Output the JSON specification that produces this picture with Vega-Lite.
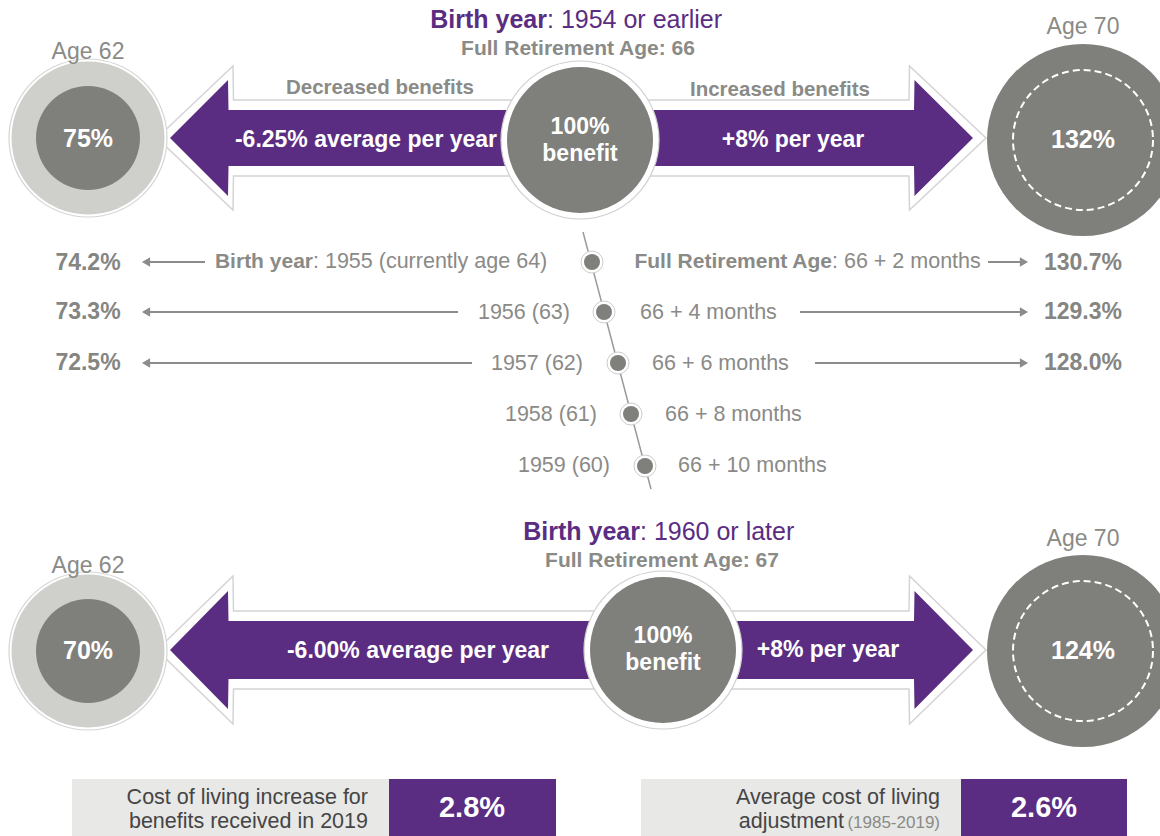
{
  "$schema": "https://vega.github.io/schema/vega-lite/v6.json",
  "width": 1160,
  "height": 836,
  "autosize": {"type": "none"},
  "padding": 0,
  "background": "white",
  "config": {"view": {"stroke": null}, "font": "Liberation Sans"},
  "datasets": {
    "arrows": [
      {"arrow": "top-left", "part": "outline", "x": 157, "y": 138, "y2": 138},
      {"arrow": "top-left", "part": "outline", "x": 233, "y": 66, "y2": 210},
      {"arrow": "top-left", "part": "outline", "x": 233.5, "y": 100, "y2": 176},
      {"arrow": "top-left", "part": "outline", "x": 560, "y": 100, "y2": 176},
      {"arrow": "top-left", "part": "fill", "x": 170, "y": 138, "y2": 138},
      {"arrow": "top-left", "part": "fill", "x": 228, "y": 80, "y2": 196},
      {"arrow": "top-left", "part": "fill", "x": 228.5, "y": 110, "y2": 166},
      {"arrow": "top-left", "part": "fill", "x": 560, "y": 110, "y2": 166},
      {"arrow": "top-right", "part": "outline", "x": 600, "y": 100, "y2": 176},
      {"arrow": "top-right", "part": "outline", "x": 909, "y": 100, "y2": 176},
      {"arrow": "top-right", "part": "outline", "x": 909.5, "y": 66, "y2": 210},
      {"arrow": "top-right", "part": "outline", "x": 986, "y": 138, "y2": 138},
      {"arrow": "top-right", "part": "fill", "x": 600, "y": 110, "y2": 166},
      {"arrow": "top-right", "part": "fill", "x": 914, "y": 110, "y2": 166},
      {"arrow": "top-right", "part": "fill", "x": 914.5, "y": 80, "y2": 196},
      {"arrow": "top-right", "part": "fill", "x": 973, "y": 138, "y2": 138},
      {"arrow": "bottom-left", "part": "outline", "x": 157, "y": 650, "y2": 650},
      {"arrow": "bottom-left", "part": "outline", "x": 233, "y": 576, "y2": 724},
      {"arrow": "bottom-left", "part": "outline", "x": 233.5, "y": 611, "y2": 689},
      {"arrow": "bottom-left", "part": "outline", "x": 640, "y": 611, "y2": 689},
      {"arrow": "bottom-left", "part": "fill", "x": 170, "y": 650, "y2": 650},
      {"arrow": "bottom-left", "part": "fill", "x": 228, "y": 591, "y2": 709},
      {"arrow": "bottom-left", "part": "fill", "x": 228.5, "y": 621, "y2": 679},
      {"arrow": "bottom-left", "part": "fill", "x": 640, "y": 621, "y2": 679},
      {"arrow": "bottom-right", "part": "outline", "x": 690, "y": 611, "y2": 689},
      {"arrow": "bottom-right", "part": "outline", "x": 909, "y": 611, "y2": 689},
      {"arrow": "bottom-right", "part": "outline", "x": 909.5, "y": 576, "y2": 724},
      {"arrow": "bottom-right", "part": "outline", "x": 986, "y": 650, "y2": 650},
      {"arrow": "bottom-right", "part": "fill", "x": 690, "y": 621, "y2": 679},
      {"arrow": "bottom-right", "part": "fill", "x": 914, "y": 621, "y2": 679},
      {"arrow": "bottom-right", "part": "fill", "x": 914.5, "y": 591, "y2": 709},
      {"arrow": "bottom-right", "part": "fill", "x": 973, "y": 650, "y2": 650}
    ],
    "spine": [{"x": 583, "y": 232, "x2": 651, "y2": 489}],
    "rowArrows": [
      {"tail": 205, "head": 146, "y": 262, "dir": "left"},
      {"tail": 988, "head": 1024, "y": 262, "dir": "right"},
      {"tail": 458, "head": 146, "y": 312, "dir": "left"},
      {"tail": 800, "head": 1024, "y": 312, "dir": "right"},
      {"tail": 472, "head": 146, "y": 363, "dir": "left"},
      {"tail": 815, "head": 1024, "y": 363, "dir": "right"}
    ],
    "circles": [
      {"x": 88, "y": 138, "kind": "ring"},
      {"x": 88, "y": 651, "kind": "ring"},
      {"x": 580, "y": 140, "kind": "hub"},
      {"x": 663, "y": 650, "kind": "hub"},
      {"x": 1083, "y": 140, "kind": "big"},
      {"x": 1083, "y": 651, "kind": "big"},
      {"x": 592, "y": 262, "kind": "dot"},
      {"x": 604, "y": 312, "kind": "dot"},
      {"x": 618, "y": 363, "kind": "dot"},
      {"x": 631, "y": 414, "kind": "dot"},
      {"x": 645, "y": 466, "kind": "dot"}
    ],
    "boxes": [
      {"x": 72, "x2": 389, "y": 779, "y2": 836, "kind": "label"},
      {"x": 389, "x2": 556, "y": 779, "y2": 836, "kind": "value"},
      {"x": 641, "x2": 961, "y": 779, "y2": 836, "kind": "label"},
      {"x": 961, "x2": 1127, "y": 779, "y2": 836, "kind": "value"}
    ],
    "texts": [
      {"x": 547, "y": 20, "text": "Birth year", "role": "titleB"},
      {"x": 547, "y": 20, "text": ": 1954 or earlier", "role": "titleR"},
      {"x": 578, "y": 49, "text": "Full Retirement Age: 66", "role": "fra"},
      {"x": 640, "y": 532, "text": "Birth year", "role": "titleB"},
      {"x": 640, "y": 532, "text": ": 1960 or later", "role": "titleR"},
      {"x": 662, "y": 561, "text": "Full Retirement Age: 67", "role": "fra"},
      {"x": 88, "y": 52, "text": "Age 62", "role": "age"},
      {"x": 1083, "y": 27, "text": "Age 70", "role": "age"},
      {"x": 88, "y": 566, "text": "Age 62", "role": "age"},
      {"x": 1083, "y": 539, "text": "Age 70", "role": "age"},
      {"x": 88, "y": 139, "text": "75%", "role": "circlePct"},
      {"x": 1083, "y": 140, "text": "132%", "role": "circlePct"},
      {"x": 88, "y": 651, "text": "70%", "role": "circlePct"},
      {"x": 1083, "y": 651, "text": "124%", "role": "circlePct"},
      {"x": 580, "y": 127, "text": "100%", "role": "hubTxt"},
      {"x": 580, "y": 154, "text": "benefit", "role": "hubTxt"},
      {"x": 663, "y": 636, "text": "100%", "role": "hubTxt"},
      {"x": 663, "y": 663, "text": "benefit", "role": "hubTxt"},
      {"x": 366, "y": 140, "text": "-6.25% average per year", "role": "arrowTxt"},
      {"x": 793, "y": 140, "text": "+8% per year", "role": "arrowTxt"},
      {"x": 418, "y": 651, "text": "-6.00% average per year", "role": "arrowTxt"},
      {"x": 828, "y": 650, "text": "+8% per year", "role": "arrowTxt"},
      {"x": 380, "y": 88, "text": "Decreased benefits", "role": "benef"},
      {"x": 780, "y": 90, "text": "Increased benefits", "role": "benef"},
      {"x": 88, "y": 263, "text": "74.2%", "role": "rowPct"},
      {"x": 88, "y": 312, "text": "73.3%", "role": "rowPct"},
      {"x": 88, "y": 363, "text": "72.5%", "role": "rowPct"},
      {"x": 1083, "y": 263, "text": "130.7%", "role": "rowPct"},
      {"x": 1083, "y": 312, "text": "129.3%", "role": "rowPct"},
      {"x": 1083, "y": 363, "text": "128.0%", "role": "rowPct"},
      {"x": 313, "y": 262, "text": "Birth year", "role": "rowB"},
      {"x": 832, "y": 262, "text": "Full Retirement Age", "role": "rowB"},
      {"x": 313, "y": 262, "text": ": 1955 (currently age 64)", "role": "rowL"},
      {"x": 832, "y": 262, "text": ": 66 + 2 months", "role": "rowL"},
      {"x": 640, "y": 313, "text": "66 + 4 months", "role": "rowL"},
      {"x": 652, "y": 364, "text": "66 + 6 months", "role": "rowL"},
      {"x": 665, "y": 415, "text": "66 + 8 months", "role": "rowL"},
      {"x": 678, "y": 466, "text": "66 + 10 months", "role": "rowL"},
      {"x": 570, "y": 313, "text": "1956 (63)", "role": "rowR"},
      {"x": 583, "y": 364, "text": "1957 (62)", "role": "rowR"},
      {"x": 597, "y": 415, "text": "1958 (61)", "role": "rowR"},
      {"x": 610, "y": 466, "text": "1959 (60)", "role": "rowR"},
      {"x": 368, "y": 798, "text": "Cost of living increase for", "role": "boxTxt"},
      {"x": 368, "y": 822, "text": "benefits received in 2019", "role": "boxTxt"},
      {"x": 940, "y": 798, "text": "Average cost of living", "role": "boxTxt"},
      {"x": 844, "y": 822, "text": "adjustment", "role": "boxTxt"},
      {"x": 940, "y": 823, "text": "(1985-2019)", "role": "boxTxtLight"},
      {"x": 472, "y": 808, "text": "2.8%", "role": "boxPct"},
      {"x": 1044, "y": 808, "text": "2.6%", "role": "boxPct"}
    ]
  },
  "layer": [
    {
      "data": {"name": "arrows"},
      "transform": [{"filter": "datum.part === 'outline'"}],
      "mark": {"type": "area", "orient": "vertical", "fill": "#ffffff", "stroke": "#d4d4d4", "strokeWidth": 1.5, "interpolate": "linear"},
      "encoding": {
        "x": {"field": "x", "type": "quantitative", "scale": {"domain": [0, 1160], "nice": false, "zero": false}, "axis": null},
        "y": {"field": "y", "type": "quantitative", "scale": {"domain": [0, 836], "nice": false, "zero": false, "reverse": true}, "axis": null},
        "y2": {"field": "y2"},
        "detail": {"field": "arrow", "type": "nominal"}
      }
    },
    {
      "data": {"name": "arrows"},
      "transform": [{"filter": "datum.part === 'fill'"}],
      "mark": {"type": "area", "orient": "vertical", "fill": "#5a2d82", "interpolate": "linear", "opacity": 1},
      "encoding": {
        "x": {"field": "x", "type": "quantitative", "scale": {"domain": [0, 1160], "nice": false, "zero": false}, "axis": null},
        "y": {"field": "y", "type": "quantitative", "scale": {"domain": [0, 836], "nice": false, "zero": false, "reverse": true}, "axis": null},
        "y2": {"field": "y2"},
        "detail": {"field": "arrow", "type": "nominal"}
      }
    },
    {
      "data": {"name": "spine"},
      "mark": {"type": "rule", "color": "#9a9a9a", "strokeWidth": 1.5},
      "encoding": {
        "x": {"field": "x", "type": "quantitative", "scale": {"domain": [0, 1160], "nice": false, "zero": false}, "axis": null},
        "y": {"field": "y", "type": "quantitative", "scale": {"domain": [0, 836], "nice": false, "zero": false, "reverse": true}, "axis": null},
        "x2": {"field": "x2"},
        "y2": {"field": "y2"}
      }
    },
    {
      "data": {"name": "rowArrows"},
      "mark": {"type": "rule", "color": "#8c8c8c", "strokeWidth": 2},
      "encoding": {
        "x": {"field": "tail", "type": "quantitative", "scale": {"domain": [0, 1160], "nice": false, "zero": false}, "axis": null},
        "x2": {"field": "head"},
        "y": {"field": "y", "type": "quantitative", "scale": {"domain": [0, 836], "nice": false, "zero": false, "reverse": true}, "axis": null}
      }
    },
    {
      "data": {"name": "rowArrows"},
      "mark": {"type": "point", "filled": true, "color": "#8c8c8c", "size": 90, "opacity": 1},
      "encoding": {
        "x": {"field": "head", "type": "quantitative", "scale": {"domain": [0, 1160], "nice": false, "zero": false}, "axis": null},
        "y": {"field": "y", "type": "quantitative", "scale": {"domain": [0, 836], "nice": false, "zero": false, "reverse": true}, "axis": null},
        "shape": {"field": "dir", "type": "nominal", "scale": {"domain": ["left", "right"], "range": ["triangle-left", "triangle-right"]}, "legend": null}
      }
    },
    {
      "data": {"name": "circles"},
      "transform": [{"filter": "datum.kind === 'ring'"}],
      "mark": {"type": "circle", "size": 24964, "fill": "#ffffff", "stroke": "#d6d6d6", "strokeWidth": 1.2, "opacity": 1},
      "encoding": {
        "x": {"field": "x", "type": "quantitative", "scale": {"domain": [0, 1160], "nice": false, "zero": false}, "axis": null},
        "y": {"field": "y", "type": "quantitative", "scale": {"domain": [0, 836], "nice": false, "zero": false, "reverse": true}, "axis": null}
      }
    },
    {
      "data": {"name": "circles"},
      "transform": [{"filter": "datum.kind === 'ring'"}],
      "mark": {"type": "circle", "size": 23409, "fill": "#cfd0cc", "opacity": 1},
      "encoding": {
        "x": {"field": "x", "type": "quantitative", "scale": {"domain": [0, 1160], "nice": false, "zero": false}, "axis": null},
        "y": {"field": "y", "type": "quantitative", "scale": {"domain": [0, 836], "nice": false, "zero": false, "reverse": true}, "axis": null}
      }
    },
    {
      "data": {"name": "circles"},
      "transform": [{"filter": "datum.kind === 'ring'"}],
      "mark": {"type": "circle", "size": 10816, "fill": "#7f807b", "opacity": 1},
      "encoding": {
        "x": {"field": "x", "type": "quantitative", "scale": {"domain": [0, 1160], "nice": false, "zero": false}, "axis": null},
        "y": {"field": "y", "type": "quantitative", "scale": {"domain": [0, 836], "nice": false, "zero": false, "reverse": true}, "axis": null}
      }
    },
    {
      "data": {"name": "circles"},
      "transform": [{"filter": "datum.kind === 'hub'"}],
      "mark": {"type": "circle", "size": 24964, "fill": "#ffffff", "stroke": "#d0d0d0", "strokeWidth": 1.2, "opacity": 1},
      "encoding": {
        "x": {"field": "x", "type": "quantitative", "scale": {"domain": [0, 1160], "nice": false, "zero": false}, "axis": null},
        "y": {"field": "y", "type": "quantitative", "scale": {"domain": [0, 836], "nice": false, "zero": false, "reverse": true}, "axis": null}
      }
    },
    {
      "data": {"name": "circles"},
      "transform": [{"filter": "datum.kind === 'hub'"}],
      "mark": {"type": "circle", "size": 21316, "fill": "#7f807b", "opacity": 1},
      "encoding": {
        "x": {"field": "x", "type": "quantitative", "scale": {"domain": [0, 1160], "nice": false, "zero": false}, "axis": null},
        "y": {"field": "y", "type": "quantitative", "scale": {"domain": [0, 836], "nice": false, "zero": false, "reverse": true}, "axis": null}
      }
    },
    {
      "data": {"name": "circles"},
      "transform": [{"filter": "datum.kind === 'big'"}],
      "mark": {"type": "circle", "size": 36864, "fill": "#7f807b", "opacity": 1},
      "encoding": {
        "x": {"field": "x", "type": "quantitative", "scale": {"domain": [0, 1160], "nice": false, "zero": false}, "axis": null},
        "y": {"field": "y", "type": "quantitative", "scale": {"domain": [0, 836], "nice": false, "zero": false, "reverse": true}, "axis": null}
      }
    },
    {
      "data": {"name": "circles"},
      "transform": [{"filter": "datum.kind === 'big'"}],
      "mark": {"type": "point", "shape": "circle", "size": 19600, "filled": false, "color": "#ffffff", "strokeWidth": 2, "strokeDash": [7, 4], "opacity": 1},
      "encoding": {
        "x": {"field": "x", "type": "quantitative", "scale": {"domain": [0, 1160], "nice": false, "zero": false}, "axis": null},
        "y": {"field": "y", "type": "quantitative", "scale": {"domain": [0, 836], "nice": false, "zero": false, "reverse": true}, "axis": null}
      }
    },
    {
      "data": {"name": "circles"},
      "transform": [{"filter": "datum.kind === 'dot'"}],
      "mark": {"type": "circle", "size": 484, "fill": "#ffffff", "stroke": "#cccccc", "strokeWidth": 1, "opacity": 1},
      "encoding": {
        "x": {"field": "x", "type": "quantitative", "scale": {"domain": [0, 1160], "nice": false, "zero": false}, "axis": null},
        "y": {"field": "y", "type": "quantitative", "scale": {"domain": [0, 836], "nice": false, "zero": false, "reverse": true}, "axis": null}
      }
    },
    {
      "data": {"name": "circles"},
      "transform": [{"filter": "datum.kind === 'dot'"}],
      "mark": {"type": "circle", "size": 256, "fill": "#7f807b", "opacity": 1},
      "encoding": {
        "x": {"field": "x", "type": "quantitative", "scale": {"domain": [0, 1160], "nice": false, "zero": false}, "axis": null},
        "y": {"field": "y", "type": "quantitative", "scale": {"domain": [0, 836], "nice": false, "zero": false, "reverse": true}, "axis": null}
      }
    },
    {
      "data": {"name": "boxes"},
      "mark": {"type": "rect"},
      "encoding": {
        "x": {"field": "x", "type": "quantitative", "scale": {"domain": [0, 1160], "nice": false, "zero": false}, "axis": null},
        "x2": {"field": "x2"},
        "y": {"field": "y", "type": "quantitative", "scale": {"domain": [0, 836], "nice": false, "zero": false, "reverse": true}, "axis": null},
        "y2": {"field": "y2"},
        "color": {"field": "kind", "type": "nominal", "scale": {"domain": ["label", "value"], "range": ["#e8e8e6", "#5a2d82"]}, "legend": null}
      }
    },
    {
      "data": {"name": "texts"},
      "transform": [{"filter": "datum.role === 'titleB'"}],
      "mark": {"type": "text", "font": "Liberation Sans", "fontWeight": "bold", "fontSize": 25, "color": "#5a2d82", "align": "right", "baseline": "middle"},
      "encoding": {
        "x": {"field": "x", "type": "quantitative", "scale": {"domain": [0, 1160], "nice": false, "zero": false}, "axis": null},
        "y": {"field": "y", "type": "quantitative", "scale": {"domain": [0, 836], "nice": false, "zero": false, "reverse": true}, "axis": null},
        "text": {"field": "text", "type": "nominal"}
      }
    },
    {
      "data": {"name": "texts"},
      "transform": [{"filter": "datum.role === 'titleR'"}],
      "mark": {"type": "text", "font": "Liberation Sans", "fontSize": 25, "color": "#5a2d82", "align": "left", "baseline": "middle"},
      "encoding": {
        "x": {"field": "x", "type": "quantitative", "scale": {"domain": [0, 1160], "nice": false, "zero": false}, "axis": null},
        "y": {"field": "y", "type": "quantitative", "scale": {"domain": [0, 836], "nice": false, "zero": false, "reverse": true}, "axis": null},
        "text": {"field": "text", "type": "nominal"}
      }
    },
    {
      "data": {"name": "texts"},
      "transform": [{"filter": "datum.role === 'fra'"}],
      "mark": {"type": "text", "font": "Liberation Sans", "fontWeight": "bold", "fontSize": 21, "color": "#8a8a87", "align": "center", "baseline": "middle"},
      "encoding": {
        "x": {"field": "x", "type": "quantitative", "scale": {"domain": [0, 1160], "nice": false, "zero": false}, "axis": null},
        "y": {"field": "y", "type": "quantitative", "scale": {"domain": [0, 836], "nice": false, "zero": false, "reverse": true}, "axis": null},
        "text": {"field": "text", "type": "nominal"}
      }
    },
    {
      "data": {"name": "texts"},
      "transform": [{"filter": "datum.role === 'benef'"}],
      "mark": {"type": "text", "font": "Liberation Sans", "fontWeight": "bold", "fontSize": 20.5, "color": "#8a8a87", "align": "center", "baseline": "middle"},
      "encoding": {
        "x": {"field": "x", "type": "quantitative", "scale": {"domain": [0, 1160], "nice": false, "zero": false}, "axis": null},
        "y": {"field": "y", "type": "quantitative", "scale": {"domain": [0, 836], "nice": false, "zero": false, "reverse": true}, "axis": null},
        "text": {"field": "text", "type": "nominal"}
      }
    },
    {
      "data": {"name": "texts"},
      "transform": [{"filter": "datum.role === 'age'"}],
      "mark": {"type": "text", "font": "Liberation Sans", "fontSize": 23, "color": "#8a8a87", "align": "center", "baseline": "middle"},
      "encoding": {
        "x": {"field": "x", "type": "quantitative", "scale": {"domain": [0, 1160], "nice": false, "zero": false}, "axis": null},
        "y": {"field": "y", "type": "quantitative", "scale": {"domain": [0, 836], "nice": false, "zero": false, "reverse": true}, "axis": null},
        "text": {"field": "text", "type": "nominal"}
      }
    },
    {
      "data": {"name": "texts"},
      "transform": [{"filter": "datum.role === 'circlePct'"}],
      "mark": {"type": "text", "font": "Liberation Sans", "fontWeight": "bold", "fontSize": 25, "color": "#ffffff", "align": "center", "baseline": "middle"},
      "encoding": {
        "x": {"field": "x", "type": "quantitative", "scale": {"domain": [0, 1160], "nice": false, "zero": false}, "axis": null},
        "y": {"field": "y", "type": "quantitative", "scale": {"domain": [0, 836], "nice": false, "zero": false, "reverse": true}, "axis": null},
        "text": {"field": "text", "type": "nominal"}
      }
    },
    {
      "data": {"name": "texts"},
      "transform": [{"filter": "datum.role === 'hubTxt' || datum.role === 'arrowTxt'"}],
      "mark": {"type": "text", "font": "Liberation Sans", "fontWeight": "bold", "fontSize": 23, "color": "#ffffff", "align": "center", "baseline": "middle"},
      "encoding": {
        "x": {"field": "x", "type": "quantitative", "scale": {"domain": [0, 1160], "nice": false, "zero": false}, "axis": null},
        "y": {"field": "y", "type": "quantitative", "scale": {"domain": [0, 836], "nice": false, "zero": false, "reverse": true}, "axis": null},
        "text": {"field": "text", "type": "nominal"}
      }
    },
    {
      "data": {"name": "texts"},
      "transform": [{"filter": "datum.role === 'rowPct'"}],
      "mark": {"type": "text", "font": "Liberation Sans", "fontWeight": "bold", "fontSize": 23, "color": "#858582", "align": "center", "baseline": "middle"},
      "encoding": {
        "x": {"field": "x", "type": "quantitative", "scale": {"domain": [0, 1160], "nice": false, "zero": false}, "axis": null},
        "y": {"field": "y", "type": "quantitative", "scale": {"domain": [0, 836], "nice": false, "zero": false, "reverse": true}, "axis": null},
        "text": {"field": "text", "type": "nominal"}
      }
    },
    {
      "data": {"name": "texts"},
      "transform": [{"filter": "datum.role === 'rowB'"}],
      "mark": {"type": "text", "font": "Liberation Sans", "fontWeight": "bold", "fontSize": 21, "color": "#8a8a87", "align": "right", "baseline": "middle"},
      "encoding": {
        "x": {"field": "x", "type": "quantitative", "scale": {"domain": [0, 1160], "nice": false, "zero": false}, "axis": null},
        "y": {"field": "y", "type": "quantitative", "scale": {"domain": [0, 836], "nice": false, "zero": false, "reverse": true}, "axis": null},
        "text": {"field": "text", "type": "nominal"}
      }
    },
    {
      "data": {"name": "texts"},
      "transform": [{"filter": "datum.role === 'rowL'"}],
      "mark": {"type": "text", "font": "Liberation Sans", "fontSize": 21.5, "color": "#8a8a87", "align": "left", "baseline": "middle"},
      "encoding": {
        "x": {"field": "x", "type": "quantitative", "scale": {"domain": [0, 1160], "nice": false, "zero": false}, "axis": null},
        "y": {"field": "y", "type": "quantitative", "scale": {"domain": [0, 836], "nice": false, "zero": false, "reverse": true}, "axis": null},
        "text": {"field": "text", "type": "nominal"}
      }
    },
    {
      "data": {"name": "texts"},
      "transform": [{"filter": "datum.role === 'rowR'"}],
      "mark": {"type": "text", "font": "Liberation Sans", "fontSize": 21.5, "color": "#8a8a87", "align": "right", "baseline": "middle"},
      "encoding": {
        "x": {"field": "x", "type": "quantitative", "scale": {"domain": [0, 1160], "nice": false, "zero": false}, "axis": null},
        "y": {"field": "y", "type": "quantitative", "scale": {"domain": [0, 836], "nice": false, "zero": false, "reverse": true}, "axis": null},
        "text": {"field": "text", "type": "nominal"}
      }
    },
    {
      "data": {"name": "texts"},
      "transform": [{"filter": "datum.role === 'boxTxt'"}],
      "mark": {"type": "text", "font": "Liberation Sans", "fontSize": 21.5, "color": "#454545", "align": "right", "baseline": "middle"},
      "encoding": {
        "x": {"field": "x", "type": "quantitative", "scale": {"domain": [0, 1160], "nice": false, "zero": false}, "axis": null},
        "y": {"field": "y", "type": "quantitative", "scale": {"domain": [0, 836], "nice": false, "zero": false, "reverse": true}, "axis": null},
        "text": {"field": "text", "type": "nominal"}
      }
    },
    {
      "data": {"name": "texts"},
      "transform": [{"filter": "datum.role === 'boxTxtLight'"}],
      "mark": {"type": "text", "font": "Liberation Sans", "fontSize": 17, "color": "#8a8a87", "align": "right", "baseline": "middle"},
      "encoding": {
        "x": {"field": "x", "type": "quantitative", "scale": {"domain": [0, 1160], "nice": false, "zero": false}, "axis": null},
        "y": {"field": "y", "type": "quantitative", "scale": {"domain": [0, 836], "nice": false, "zero": false, "reverse": true}, "axis": null},
        "text": {"field": "text", "type": "nominal"}
      }
    },
    {
      "data": {"name": "texts"},
      "transform": [{"filter": "datum.role === 'boxPct'"}],
      "mark": {"type": "text", "font": "Liberation Sans", "fontWeight": "bold", "fontSize": 29, "color": "#ffffff", "align": "center", "baseline": "middle"},
      "encoding": {
        "x": {"field": "x", "type": "quantitative", "scale": {"domain": [0, 1160], "nice": false, "zero": false}, "axis": null},
        "y": {"field": "y", "type": "quantitative", "scale": {"domain": [0, 836], "nice": false, "zero": false, "reverse": true}, "axis": null},
        "text": {"field": "text", "type": "nominal"}
      }
    }
  ]
}
